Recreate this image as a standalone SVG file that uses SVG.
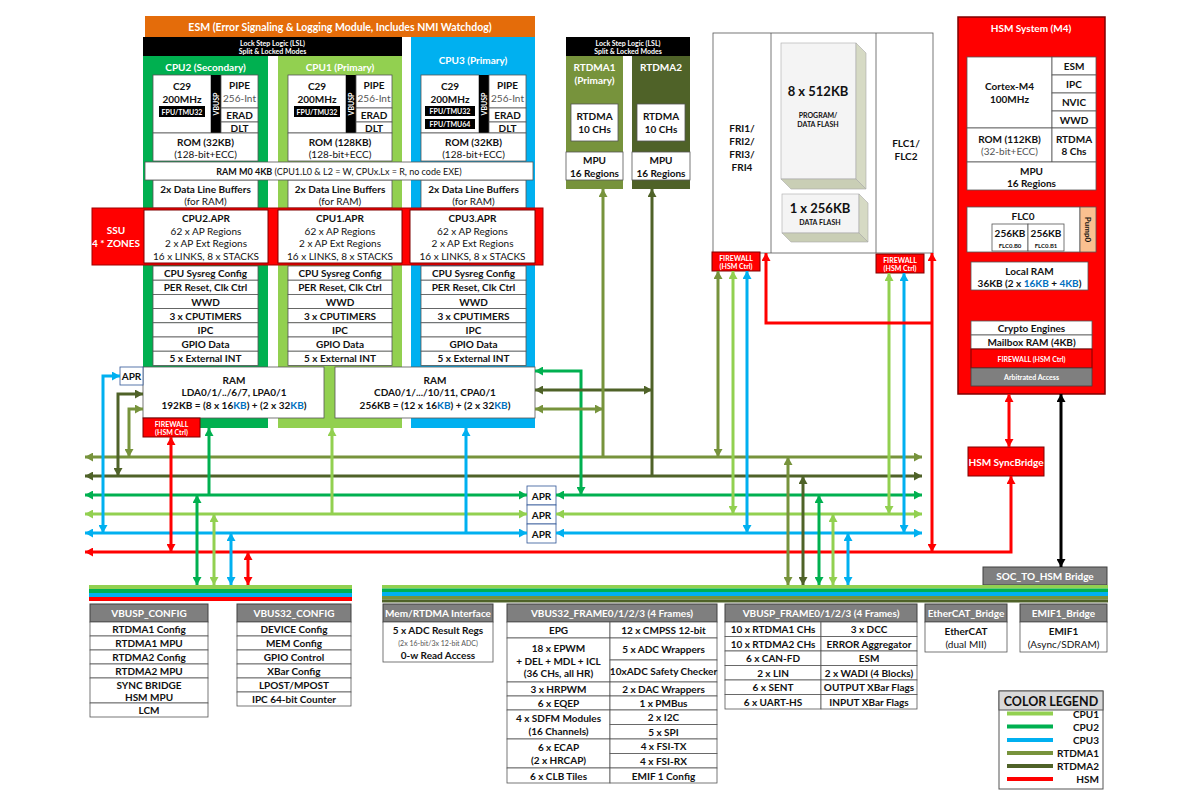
<svg xmlns="http://www.w3.org/2000/svg" width="1200" height="795" viewBox="0 0 1200 795">
<defs>
<style>
text{font-family:Lato,'Liberation Sans',sans-serif;font-size:10px;font-weight:700;text-anchor:middle;dominant-baseline:central;fill:#111}
.n{font-weight:400}
.w{fill:#fff}
.t7{font-size:7px}
.t8{font-size:8px}
.t9{font-size:9px}
.gy{fill:#555}
.kb{fill:#0070C0}
.bx{fill:#fff;stroke:#555;stroke-width:.8}
.hd{fill:#7f7f7f;stroke:#404040;stroke-width:1}
.fw{fill:#f00;stroke:#7f0000;stroke-width:1}
.apr{fill:#fff;stroke:#2F5597;stroke-width:.8}
.c{fill:none;stroke-width:3}
.lg{stroke:#92D050}.g{stroke:#00B050}.bl{stroke:#00B0F0}.ol{stroke:#77933C}.dk{stroke:#4F6228}.rd{stroke:#FF0000}.bk{stroke:#000}
</style>
<marker id="mlg" viewBox="0 0 8 9" refX="8" refY="4.5" markerWidth="8" markerHeight="9" markerUnits="userSpaceOnUse" orient="auto-start-reverse"><path d="M0,0 L8,4.5 L0,9 Z" fill="#92D050"/></marker>
<marker id="mg" viewBox="0 0 8 9" refX="8" refY="4.5" markerWidth="8" markerHeight="9" markerUnits="userSpaceOnUse" orient="auto-start-reverse"><path d="M0,0 L8,4.5 L0,9 Z" fill="#00B050"/></marker>
<marker id="mb" viewBox="0 0 8 9" refX="8" refY="4.5" markerWidth="8" markerHeight="9" markerUnits="userSpaceOnUse" orient="auto-start-reverse"><path d="M0,0 L8,4.5 L0,9 Z" fill="#00B0F0"/></marker>
<marker id="mo" viewBox="0 0 8 9" refX="8" refY="4.5" markerWidth="8" markerHeight="9" markerUnits="userSpaceOnUse" orient="auto-start-reverse"><path d="M0,0 L8,4.5 L0,9 Z" fill="#77933C"/></marker>
<marker id="md" viewBox="0 0 8 9" refX="8" refY="4.5" markerWidth="8" markerHeight="9" markerUnits="userSpaceOnUse" orient="auto-start-reverse"><path d="M0,0 L8,4.5 L0,9 Z" fill="#4F6228"/></marker>
<marker id="mr" viewBox="0 0 8 9" refX="8" refY="4.5" markerWidth="8" markerHeight="9" markerUnits="userSpaceOnUse" orient="auto-start-reverse"><path d="M0,0 L8,4.5 L0,9 Z" fill="#FF0000"/></marker>
<marker id="mk" viewBox="0 0 8 9" refX="8" refY="4.5" markerWidth="8" markerHeight="9" markerUnits="userSpaceOnUse" orient="auto-start-reverse"><path d="M0,0 L8,4.5 L0,9 Z" fill="#000"/></marker>
</defs>
<rect width="1200" height="795" fill="#fff"/>

<g id="esm">
<rect x="145" y="16" width="390" height="21" fill="#E46C0A"/>
<text class="w" x="340" y="26.5" style="font-size:10.5px">ESM (Error Signaling &amp; Logging Module, Includes NMI Watchdog)</text>
</g>
<g id="lsl-cpu">
<rect x="143" y="37" width="259" height="19" fill="#000"/>
<text class="w t7" x="272.5" y="42.5">Lock Step Logic (LSL)</text>
<text class="w t7" x="272.5" y="51">Split &amp; Locked Modes</text>
</g>

<g id="cpu2" transform="translate(143,0)">
<rect x="0" y="56" width="125" height="372" fill="#00B050"/>
<text class="w" x="62.5" y="67">CPU2 (Secondary)</text>
<rect class="bx" x="10" y="75" width="58" height="58"/>
<text x="39" y="86">C29</text>
<text x="39" y="99">200MHz</text>
<rect x="16" y="106" width="46" height="11" fill="#000"/>
<text class="w t7" x="39" y="111.5">FPU/TMU32</text>
<rect x="68" y="75" width="10" height="58" fill="#000"/>
<text class="w t7" transform="translate(73,104) rotate(-90)">VBUSP</text>
<rect class="bx" x="78" y="75" width="37" height="33"/>
<text x="96.5" y="85">PIPE</text>
<text class="n gy" x="96.5" y="98">256-Int</text>
<rect class="bx" x="78" y="108" width="37" height="14"/>
<text x="96.5" y="115">ERAD</text>
<rect class="bx" x="78" y="122" width="37" height="11"/>
<text x="96.5" y="127.5">DLT</text>
<rect class="bx" x="10" y="133" width="105" height="28"/>
<text x="62.5" y="142">ROM (32KB)</text>
<text class="n" x="62.5" y="154">(128-bit+ECC)</text>
<rect class="bx" x="10" y="180" width="105" height="28"/>
<text x="62.5" y="189">2x Data Line Buffers</text>
<text class="n" x="62.5" y="201">(for RAM)</text>
<rect class="bx" x="10" y="266" width="105" height="14.2"/><text x="62.5" y="273.1">CPU Sysreg Config</text>
<rect class="bx" x="10" y="280.2" width="105" height="14.2"/><text x="62.5" y="287.3">PER Reset, Clk Ctrl</text>
<rect class="bx" x="10" y="294.4" width="105" height="14.2"/><text x="62.5" y="301.5">WWD</text>
<rect class="bx" x="10" y="308.6" width="105" height="14.2"/><text x="62.5" y="315.7">3 x CPUTIMERS</text>
<rect class="bx" x="10" y="322.8" width="105" height="14.2"/><text x="62.5" y="329.9">IPC</text>
<rect class="bx" x="10" y="337" width="105" height="14.2"/><text x="62.5" y="344.1">GPIO Data</text>
<rect class="bx" x="10" y="351.2" width="105" height="14.2"/><text x="62.5" y="358.3">5 x External INT</text>
</g>

<g id="cpu1" transform="translate(278,0)">
<rect x="0" y="56" width="124" height="372" fill="#92D050"/>
<text class="w" x="62" y="67">CPU1 (Primary)</text>
<rect class="bx" x="10" y="75" width="58" height="58"/>
<text x="39" y="86">C29</text>
<text x="39" y="99">200MHz</text>
<rect x="16" y="106" width="46" height="11" fill="#000"/>
<text class="w t7" x="39" y="111.5">FPU/TMU32</text>
<rect x="68" y="75" width="10" height="58" fill="#000"/>
<text class="w t7" transform="translate(73,104) rotate(-90)">VBUSP</text>
<rect class="bx" x="78" y="75" width="36" height="33"/>
<text x="96" y="85">PIPE</text>
<text class="n gy" x="96" y="98">256-Int</text>
<rect class="bx" x="78" y="108" width="36" height="14"/>
<text x="96" y="115">ERAD</text>
<rect class="bx" x="78" y="122" width="36" height="11"/>
<text x="96" y="127.5">DLT</text>
<rect class="bx" x="10" y="133" width="104" height="28"/>
<text x="62" y="142">ROM (128KB)</text>
<text class="n" x="62" y="154">(128-bit+ECC)</text>
<rect class="bx" x="10" y="180" width="104" height="28"/>
<text x="62" y="189">2x Data Line Buffers</text>
<text class="n" x="62" y="201">(for RAM)</text>
<rect class="bx" x="10" y="266" width="104" height="14.2"/><text x="62" y="273.1">CPU Sysreg Config</text>
<rect class="bx" x="10" y="280.2" width="104" height="14.2"/><text x="62" y="287.3">PER Reset, Clk Ctrl</text>
<rect class="bx" x="10" y="294.4" width="104" height="14.2"/><text x="62" y="301.5">WWD</text>
<rect class="bx" x="10" y="308.6" width="104" height="14.2"/><text x="62" y="315.7">3 x CPUTIMERS</text>
<rect class="bx" x="10" y="322.8" width="104" height="14.2"/><text x="62" y="329.9">IPC</text>
<rect class="bx" x="10" y="337" width="104" height="14.2"/><text x="62" y="344.1">GPIO Data</text>
<rect class="bx" x="10" y="351.2" width="104" height="14.2"/><text x="62" y="358.3">5 x External INT</text>
</g>

<g id="cpu3" transform="translate(411,0)">
<rect x="0" y="37" width="124" height="391" fill="#00B0F0"/>
<text class="w" x="62" y="60">CPU3 (Primary)</text>
<rect class="bx" x="10" y="75" width="58" height="58"/>
<text x="39" y="86">C29</text>
<text x="39" y="99">200MHz</text>
<rect x="14" y="106" width="50" height="10" fill="#000"/>
<text class="w t7" x="39" y="111">FPU/TMU32</text>
<rect x="14" y="119" width="50" height="10" fill="#000"/>
<text class="w t7" x="39" y="124">FPU/TMU64</text>
<rect x="68" y="75" width="10" height="58" fill="#000"/>
<text class="w t7" transform="translate(73,104) rotate(-90)">VBUSP</text>
<rect class="bx" x="78" y="75" width="37" height="33"/>
<text x="96.5" y="85">PIPE</text>
<text class="n gy" x="96.5" y="98">256-Int</text>
<rect class="bx" x="78" y="108" width="37" height="14"/>
<text x="96.5" y="115">ERAD</text>
<rect class="bx" x="78" y="122" width="37" height="11"/>
<text x="96.5" y="127.5">DLT</text>
<rect class="bx" x="10" y="133" width="105" height="28"/>
<text x="62.5" y="142">ROM (32KB)</text>
<text class="n" x="62.5" y="154">(128-bit+ECC)</text>
<rect class="bx" x="10" y="180" width="105" height="28"/>
<text x="62.5" y="189">2x Data Line Buffers</text>
<text class="n" x="62.5" y="201">(for RAM)</text>
<rect class="bx" x="10" y="266" width="105" height="14.2"/><text x="62.5" y="273.1">CPU Sysreg Config</text>
<rect class="bx" x="10" y="280.2" width="105" height="14.2"/><text x="62.5" y="287.3">PER Reset, Clk Ctrl</text>
<rect class="bx" x="10" y="294.4" width="105" height="14.2"/><text x="62.5" y="301.5">WWD</text>
<rect class="bx" x="10" y="308.6" width="105" height="14.2"/><text x="62.5" y="315.7">3 x CPUTIMERS</text>
<rect class="bx" x="10" y="322.8" width="105" height="14.2"/><text x="62.5" y="329.9">IPC</text>
<rect class="bx" x="10" y="337" width="105" height="14.2"/><text x="62.5" y="344.1">GPIO Data</text>
<rect class="bx" x="10" y="351.2" width="105" height="14.2"/><text x="62.5" y="358.3">5 x External INT</text>
</g>

<g id="ram-m0">
<rect class="bx" x="145" y="162" width="388" height="18"/>
<text class="t9" x="339" y="171">RAM M0 4KB<tspan class="n"> (CPU1.L0 &amp; L2 = W, CPUx.Lx = R, no code EXE)</tspan></text>
</g>

<g id="ssu">
<rect x="92" y="208" width="451" height="57" fill="#FF0000" stroke="#a00000" stroke-width="1"/>
<text class="w" x="116" y="230">SSU</text>
<text class="w" x="116" y="243">4 * ZONES</text>
</g>
<g id="cpu2-apr">
<rect x="144" y="210" width="124" height="53" fill="#fff" stroke="#7f0000" stroke-width="1"/>
<text x="206" y="218">CPU2.APR</text>
<text class="n" x="206" y="231">62 x AP Regions</text>
<text class="n" x="206" y="243">2 x AP Ext Regions</text>
<text class="n" x="206" y="256">16 x LINKS, 8 x STACKS</text>
</g>
<g id="cpu1-apr">
<rect x="278" y="210" width="124" height="53" fill="#fff" stroke="#7f0000" stroke-width="1"/>
<text x="340" y="218">CPU1.APR</text>
<text class="n" x="340" y="231">62 x AP Regions</text>
<text class="n" x="340" y="243">2 x AP Ext Regions</text>
<text class="n" x="340" y="256">16 x LINKS, 8 x STACKS</text>
</g>
<g id="cpu3-apr">
<rect x="410" y="210" width="125" height="53" fill="#fff" stroke="#7f0000" stroke-width="1"/>
<text x="472.5" y="218">CPU3.APR</text>
<text class="n" x="472.5" y="231">62 x AP Regions</text>
<text class="n" x="472.5" y="243">2 x AP Ext Regions</text>
<text class="n" x="472.5" y="256">16 x LINKS, 8 x STACKS</text>
</g>

<g id="ram-left">
<rect class="bx" x="143" y="367" width="181" height="51"/>
<text x="234" y="379.5">RAM</text>
<text x="234" y="392">LDA0/1/../6/7, LPA0/1</text>
<text x="234" y="405">192KB = (8 x 16<tspan class="kb">KB</tspan>) + (2 x 32<tspan class="kb">KB</tspan>)</text>
</g>
<g id="ram-right">
<rect class="bx" x="335" y="367" width="200" height="51"/>
<text x="435" y="379.5">RAM</text>
<text x="435" y="392">CDA0/1/.../10/11, CPA0/1</text>
<text x="435" y="405">256KB = (12 x 16<tspan class="kb">KB</tspan>) + (2 x 32<tspan class="kb">KB</tspan>)</text>
</g>
<g id="apr-ram">
<rect class="apr" x="120" y="367" width="23" height="18"/>
<text x="131.5" y="376">APR</text>
</g>
<g id="fw-ram">
<rect class="fw" x="143" y="418" width="57" height="19"/>
<text class="w t7" x="171.5" y="423.5">FIREWALL</text>
<text class="w t7" x="171.5" y="431.5">(HSM Ctrl)</text>
</g>

<g id="rtdma">
<rect x="566" y="37" width="124" height="19" fill="#000"/>
<text class="w t7" x="628" y="42.5">Lock Step Logic (LSL)</text>
<text class="w t7" x="628" y="51">Split &amp; Locked Modes</text>
</g>
<g id="rtdma1">
<rect x="566" y="56" width="57" height="133" fill="#77933C"/>
<text class="w" x="594.5" y="67">RTDMA1</text>
<text class="w" x="594.5" y="80">(Primary)</text>
<rect class="bx" x="571" y="104" width="47" height="37"/>
<text x="594.5" y="116">RTDMA</text>
<text x="594.5" y="129">10 CHs</text>
<rect class="bx" x="566" y="152" width="57" height="28"/>
<text x="594.5" y="160">MPU</text>
<text x="594.5" y="173">16 Regions</text>
</g>
<g id="rtdma2">
<rect x="632" y="56" width="58" height="133" fill="#4F6228"/>
<text class="w" x="661" y="67">RTDMA2</text>
<rect class="bx" x="637" y="104" width="48" height="37"/>
<text x="661" y="116">RTDMA</text>
<text x="661" y="129">10 CHs</text>
<rect class="bx" x="632" y="152" width="58" height="28"/>
<text x="661" y="160">MPU</text>
<text x="661" y="173">16 Regions</text>
</g>

<g id="flash">
<rect class="bx" x="713" y="33" width="220" height="220"/>
<line x1="771" y1="33" x2="771" y2="253" stroke="#555" stroke-width=".8"/>
<line x1="876" y1="33" x2="876" y2="253" stroke="#555" stroke-width=".8"/>
<text x="742" y="128">FRI1/</text>
<text x="742" y="141">FRI2/</text>
<text x="742" y="154">FRI3/</text>
<text x="742" y="167">FRI4</text>
<text x="906" y="143">FLC1/</text>
<text x="906" y="156">FLC2</text>
<rect x="781" y="43" width="75" height="136" fill="#F4F4F4" stroke="#aaa" stroke-width=".6"/>
<polygon points="856,43 866,53 866,189 856,179" fill="#D6DAC4" stroke="#aaa" stroke-width=".6"/>
<polygon points="781,179 856,179 866,189 791,189" fill="#C9CEB5" stroke="#aaa" stroke-width=".6"/>
<text x="818" y="91" style="font-size:13px">8 x 512KB</text>
<text class="t7" x="818" y="115">PROGRAM/</text>
<text class="t7" x="818" y="124">DATA FLASH</text>
<rect x="782" y="194" width="77" height="39" fill="#F4F4F4" stroke="#aaa" stroke-width=".6"/>
<polygon points="859,194 868,203 868,242 859,233" fill="#D6DAC4" stroke="#aaa" stroke-width=".6"/>
<polygon points="782,233 859,233 868,242 791,242" fill="#C9CEB5" stroke="#aaa" stroke-width=".6"/>
<text x="820" y="208" style="font-size:13px">1 x 256KB</text>
<text class="t7" x="820" y="222">DATA FLASH</text>
</g>
<g id="fw-fri">
<rect class="fw" x="712" y="252" width="48" height="19"/>
<text class="w t7" x="736" y="257.5">FIREWALL</text>
<text class="w t7" x="736" y="265.5">(HSM Ctrl)</text>
</g>
<g id="fw-flc">
<rect class="fw" x="876" y="254" width="48" height="19"/>
<text class="w t7" x="900" y="259.5">FIREWALL</text>
<text class="w t7" x="900" y="267.5">(HSM Ctrl)</text>
</g>

<g id="hsm">
<rect x="958" y="17" width="147" height="377" fill="#FF0000" stroke="#7f0000" stroke-width="1.5"/>
<text class="w" x="1031" y="28">HSM System (M4)</text>
<rect class="bx" x="967" y="57" width="85" height="71"/>
<text x="1009.5" y="86">Cortex-M4</text>
<text x="1009.5" y="99">100MHz</text>
<rect class="bx" x="1052" y="57" width="44" height="18"/><text x="1074" y="66">ESM</text>
<rect class="bx" x="1052" y="75" width="44" height="18"/><text x="1074" y="84">IPC</text>
<rect class="bx" x="1052" y="93" width="44" height="18"/><text x="1074" y="102">NVIC</text>
<rect class="bx" x="1052" y="111" width="44" height="17"/><text x="1074" y="119.5">WWD</text>
<rect class="bx" x="967" y="128" width="85" height="34"/>
<text x="1009.5" y="139">ROM (112KB)</text>
<text class="n gy" x="1009.5" y="151">(32-bit+ECC)</text>
<rect class="bx" x="1052" y="128" width="44" height="34"/>
<text x="1074" y="139">RTDMA</text>
<text x="1074" y="151">8 Chs</text>
<rect class="bx" x="967" y="162" width="129" height="28"/>
<text x="1031.5" y="170.5">MPU</text>
<text x="1031.5" y="182.5">16 Regions</text>
<rect class="bx" x="967" y="207" width="113" height="45"/>
<text x="1023" y="216">FLC0</text>
<rect class="bx" x="992" y="224" width="36" height="27"/>
<text x="1010" y="233">256KB</text>
<text class="t7" x="1010" y="245" style="font-size:6px">FLC0.B0</text>
<rect class="bx" x="1028" y="224" width="36" height="27"/>
<text x="1046" y="233">256KB</text>
<text class="t7" x="1046" y="245" style="font-size:6px">FLC0.B1</text>
<rect x="1080" y="207" width="16" height="45" fill="#FAC090" stroke="#555" stroke-width=".8"/>
<text class="t8" transform="translate(1088,229.5) rotate(90)">Pump0</text>
<rect class="bx" x="971" y="262" width="117" height="28"/>
<text x="1029.5" y="270.5">Local RAM</text>
<text x="1029.5" y="283">36KB (2 x <tspan class="kb">16KB</tspan> + <tspan class="kb">4KB</tspan>)</text>
<rect class="bx" x="971" y="321" width="121" height="14"/>
<text x="1031.5" y="328">Crypto Engines</text>
<rect class="bx" x="971" y="335" width="121" height="14"/>
<text x="1031.5" y="342">Mailbox RAM (4KB)</text>
<rect class="fw" x="971" y="349" width="121" height="19"/>
<text class="w t7" x="1031.5" y="358.5">FIREWALL (HSM Ctrl)</text>
<rect x="971" y="368" width="121" height="18" fill="#7f7f7f" stroke="#404040" stroke-width=".8"/>
<text class="w t7" x="1031.5" y="377">Arbitrated Access</text>
</g>

<g id="hsm-syncbridge">
<rect x="968" y="447" width="76" height="29" fill="#FF0000" stroke="#7f0000" stroke-width="1"/>
<text class="w" x="1006" y="461.5">HSM SyncBridge</text>
</g>
<g id="soc-to-hsm">
<rect class="hd" x="983" y="567" width="124" height="18"/>
<text class="w" x="1045" y="576">SOC_TO_HSM Bridge</text>
</g>

<g id="apr-mid">
<rect class="apr" x="527" y="486" width="29" height="19"/><text x="541.5" y="495.5">APR</text>
<rect class="apr" x="527" y="505" width="29" height="19"/><text x="541.5" y="514.5">APR</text>
<rect class="apr" x="527" y="524" width="29" height="19"/><text x="541.5" y="533.5">APR</text>
</g>

<g id="buses">
<rect x="89" y="585" width="263" height="4" fill="#92D050"/>
<rect x="89" y="589" width="263" height="4" fill="#00B050"/>
<rect x="89" y="593" width="263" height="4" fill="#00B0F0"/>
<rect x="89" y="597" width="263" height="4" fill="#FF0000"/>
<rect x="382" y="585" width="726" height="3.5" fill="#92D050"/>
<rect x="382" y="588.5" width="726" height="3.5" fill="#00B050"/>
<rect x="382" y="592" width="726" height="4" fill="#00B0F0"/>
<rect x="382" y="596" width="726" height="3.5" fill="#77933C"/>
<rect x="382" y="599.5" width="726" height="3" fill="#4F6228"/>
</g>

<g id="connectors">
<path class="c ol" d="M85,457 H922" marker-start="url(#mo)" marker-end="url(#mo)"/>
<path class="c dk" d="M85,476 H922" marker-start="url(#md)" marker-end="url(#md)"/>
<path class="c g" d="M85,495 H527" marker-start="url(#mg)" marker-end="url(#mg)"/>
<path class="c g" d="M556,495 H922" marker-start="url(#mg)" marker-end="url(#mg)"/>
<path class="c lg" d="M85,514 H527" marker-start="url(#mlg)" marker-end="url(#mlg)"/>
<path class="c lg" d="M556,514 H922" marker-start="url(#mlg)" marker-end="url(#mlg)"/>
<path class="c bl" d="M85,533 H527" marker-start="url(#mb)" marker-end="url(#mb)"/>
<path class="c bl" d="M556,533 H922" marker-start="url(#mb)" marker-end="url(#mb)"/>
<path class="c rd" d="M85,552 H1011 V476" marker-start="url(#mr)" marker-end="url(#mr)"/>

<path class="c bl" d="M120,376 H103 V533" marker-start="url(#mb)" marker-end="url(#mb)"/>
<path class="c dk" d="M143,394 H118 V476" marker-start="url(#md)" marker-end="url(#md)"/>
<path class="c ol" d="M143,409 H129 V457" marker-start="url(#mo)" marker-end="url(#mo)"/>
<path class="c rd" d="M171,437 V552" marker-start="url(#mr)" marker-end="url(#mr)"/>
<path class="c g" d="M209,428 V495" marker-start="url(#mg)"/>
<path class="c lg" d="M332,428 V514" marker-start="url(#mlg)"/>
<path class="c bl" d="M466,428 V533" marker-start="url(#mb)"/>

<path class="c g" d="M197,495 V585" marker-start="url(#mg)" marker-end="url(#mg)"/>
<path class="c lg" d="M214,514 V585" marker-start="url(#mlg)" marker-end="url(#mlg)"/>
<path class="c bl" d="M231,533 V585" marker-start="url(#mb)" marker-end="url(#mb)"/>
<path class="c rd" d="M248,552 V585" marker-start="url(#mr)" marker-end="url(#mr)"/>

<path class="c g" d="M535,371 H581 V495" marker-start="url(#mg)" marker-end="url(#mg)"/>
<path class="c dk" d="M535,390 H652" marker-start="url(#md)" marker-end="url(#md)"/>
<path class="c ol" d="M535,409 H603" marker-start="url(#mo)" marker-end="url(#mo)"/>
<path class="c ol" d="M603,189 V457" marker-start="url(#mo)"/>
<path class="c dk" d="M652,189 V476" marker-start="url(#md)"/>

<path class="c ol" d="M718,271 V457" marker-start="url(#mo)" marker-end="url(#mo)"/>
<path class="c lg" d="M733,271 V514" marker-start="url(#mlg)" marker-end="url(#mlg)"/>
<path class="c bl" d="M747,271 V533" marker-start="url(#mb)" marker-end="url(#mb)"/>
<path class="c lg" d="M889,273 V514" marker-start="url(#mlg)" marker-end="url(#mlg)"/>
<path class="c bl" d="M904,273 V533" marker-start="url(#mb)" marker-end="url(#mb)"/>
<path class="c rd" d="M766,253 V323 H932" marker-start="url(#mr)"/>
<path class="c rd" d="M932,253 V552" marker-start="url(#mr)" marker-end="url(#mr)"/>

<path class="c ol" d="M788,457 V585" marker-start="url(#mo)" marker-end="url(#mo)"/>
<path class="c dk" d="M803,476 V585" marker-start="url(#md)" marker-end="url(#md)"/>
<path class="c g" d="M819,495 V585" marker-start="url(#mg)" marker-end="url(#mg)"/>
<path class="c lg" d="M833,514 V585" marker-start="url(#mlg)" marker-end="url(#mlg)"/>
<path class="c bl" d="M848,533 V585" marker-start="url(#mb)" marker-end="url(#mb)"/>

<path class="c rd" d="M1009,394 V447" marker-start="url(#mr)" marker-end="url(#mr)"/>
<path class="c bk" d="M1061,394 V567" marker-start="url(#mk)" marker-end="url(#mk)"/>
</g>

<g id="vbusp-config">
<rect class="hd" x="90" y="604" width="118" height="18"/>
<text class="w" x="149" y="613">VBUSP_CONFIG</text>
<rect class="bx" x="90" y="622" width="118" height="14"/><text x="149" y="629">RTDMA1 Config</text>
<rect class="bx" x="90" y="636" width="118" height="14"/><text x="149" y="643">RTDMA1 MPU</text>
<rect class="bx" x="90" y="650" width="118" height="14"/><text x="149" y="657">RTDMA2 Config</text>
<rect class="bx" x="90" y="664" width="118" height="14"/><text x="149" y="671">RTDMA2 MPU</text>
<rect class="bx" x="90" y="678" width="118" height="25"/><text x="149" y="684.5">SYNC BRIDGE</text><text x="149" y="696.5">HSM MPU</text>
<rect class="bx" x="90" y="703" width="118" height="14"/><text x="149" y="710">LCM</text>
</g>
<g id="vbus32-config">
<rect class="hd" x="237" y="604" width="114" height="18"/>
<text class="w" x="294" y="613">VBUS32_CONFIG</text>
<rect class="bx" x="237" y="622" width="114" height="14"/><text x="294" y="629">DEVICE Config</text>
<rect class="bx" x="237" y="636" width="114" height="14"/><text x="294" y="643">MEM Config</text>
<rect class="bx" x="237" y="650" width="114" height="14"/><text x="294" y="657">GPIO Control</text>
<rect class="bx" x="237" y="664" width="114" height="14"/><text x="294" y="671">XBar Config</text>
<rect class="bx" x="237" y="678" width="114" height="14"/><text x="294" y="685">LPOST/MPOST</text>
<rect class="bx" x="237" y="692" width="114" height="14"/><text x="294" y="699">IPC 64-bit Counter</text>
</g>
<g id="mem-rtdma">
<rect class="hd" x="383" y="604" width="110" height="18"/>
<text class="w" x="438" y="613">Mem/RTDMA Interface</text>
<rect class="bx" x="383" y="622" width="110" height="40"/>
<text x="438" y="630">5 x ADC Result Regs</text>
<text class="n gy t7" x="438" y="643">(2x 16-bit/3x 12-bit ADC)</text>
<text x="438" y="655">0-w Read Access</text>
</g>
<g id="vbus32-frame">
<rect class="hd" x="507" y="604" width="210" height="18"/>
<text class="w" x="612" y="613">VBUS32_FRAME0/1/2/3 (4 Frames)</text>
<rect class="bx" x="507" y="622" width="103" height="16"/><text x="558.5" y="630">EPG</text>
<rect class="bx" x="610" y="622" width="107" height="16"/><text x="663.5" y="630">12 x CMPSS 12-bit</text>
<rect class="bx" x="507" y="638" width="103" height="44"/>
<text x="558.5" y="648">18 x EPWM</text>
<text x="558.5" y="660.5">+ DEL + MDL + ICL</text>
<text x="558.5" y="673">(36 CHs, all HR)</text>
<rect class="bx" x="610" y="638" width="107" height="22"/><text x="663.5" y="649">5 x ADC Wrappers</text>
<rect class="bx" x="610" y="660" width="107" height="22"/><text x="663.5" y="671">10xADC Safety Checker</text>
<rect class="bx" x="507" y="682" width="103" height="14"/><text x="558.5" y="689">3 x HRPWM</text>
<rect class="bx" x="610" y="682" width="107" height="14"/><text x="663.5" y="689">2 x DAC Wrappers</text>
<rect class="bx" x="507" y="696" width="103" height="14"/><text x="558.5" y="703">6 x EQEP</text>
<rect class="bx" x="610" y="696" width="107" height="14"/><text x="663.5" y="703">1 x PMBus</text>
<rect class="bx" x="507" y="710" width="103" height="29"/>
<text x="558.5" y="718">4 x SDFM Modules</text>
<text x="558.5" y="731">(16 Channels)</text>
<rect class="bx" x="610" y="710" width="107" height="14.5"/><text x="663.5" y="717.2">2 x I2C</text>
<rect class="bx" x="610" y="724.5" width="107" height="14.5"/><text x="663.5" y="731.7">5 x SPI</text>
<rect class="bx" x="507" y="739" width="103" height="29"/>
<text x="558.5" y="747">6 x ECAP</text>
<text x="558.5" y="760">(2 x HRCAP)</text>
<rect class="bx" x="610" y="739" width="107" height="14.5"/><text x="663.5" y="746.2">4 x FSI-TX</text>
<rect class="bx" x="610" y="753.5" width="107" height="14.5"/><text x="663.5" y="760.7">4 x FSI-RX</text>
<rect class="bx" x="507" y="768" width="103" height="15"/><text x="558.5" y="775.5">6 x CLB Tiles</text>
<rect class="bx" x="610" y="768" width="107" height="15"/><text x="663.5" y="775.5">EMIF 1 Config</text>
</g>
<g id="vbusp-frame">
<rect class="hd" x="725" y="604" width="192" height="18"/>
<text class="w" x="821" y="613">VBUSP_FRAME0/1/2/3 (4 Frames)</text>
<rect class="bx" x="725" y="622" width="96" height="14.5"/><text x="773" y="629.2">10 x RTDMA1 CHs</text>
<rect class="bx" x="821" y="622" width="96" height="14.5"/><text x="869" y="629.2">3 x DCC</text>
<rect class="bx" x="725" y="636.5" width="96" height="14.5"/><text x="773" y="643.7">10 x RTDMA2 CHs</text>
<rect class="bx" x="821" y="636.5" width="96" height="14.5"/><text x="869" y="643.7">ERROR Aggregator</text>
<rect class="bx" x="725" y="651" width="96" height="14.5"/><text x="773" y="658.2">6 x CAN-FD</text>
<rect class="bx" x="821" y="651" width="96" height="14.5"/><text x="869" y="658.2">ESM</text>
<rect class="bx" x="725" y="665.5" width="96" height="14.5"/><text x="773" y="672.7">2 x LIN</text>
<rect class="bx" x="821" y="665.5" width="96" height="14.5"/><text x="869" y="672.7">2 x WADI (4 Blocks)</text>
<rect class="bx" x="725" y="680" width="96" height="14.5"/><text x="773" y="687.2">6 x SENT</text>
<rect class="bx" x="821" y="680" width="96" height="14.5"/><text x="869" y="687.2">OUTPUT XBar Flags</text>
<rect class="bx" x="725" y="694.5" width="96" height="14.5"/><text x="773" y="701.7">6 x UART-HS</text>
<rect class="bx" x="821" y="694.5" width="96" height="14.5"/><text x="869" y="701.7">INPUT XBar Flags</text>
</g>
<g id="ethercat-bridge">
<rect class="hd" x="925" y="604" width="82" height="18"/>
<text class="w" x="966" y="613">EtherCAT_Bridge</text>
<rect class="bx" x="925" y="622" width="82" height="30"/>
<text x="966" y="630.5">EtherCAT</text>
<text class="n" x="966" y="643.5">(dual MII)</text>
</g>
<g id="emif1-bridge">
<rect class="hd" x="1020" y="604" width="87" height="18"/>
<text class="w" x="1063.5" y="613">EMIF1_Bridge</text>
<rect class="bx" x="1020" y="622" width="87" height="30"/>
<text x="1063.5" y="630.5">EMIF1</text>
<text class="n" x="1063.5" y="643.5">(Async/SDRAM)</text>
</g>

<g id="legend">
<rect x="999" y="691" width="104" height="98" fill="#fff" stroke="#555" stroke-width="1"/>
<rect x="999" y="691" width="104" height="19" fill="#D9D9D9" stroke="#555" stroke-width="1"/>
<text x="1051" y="701" style="font-size:12.5px">COLOR LEGEND</text>
<line x1="1007" y1="713.5" x2="1053" y2="713.5" stroke="#92D050" stroke-width="4"/>
<text x="1099" y="713.5" style="text-anchor:end">CPU1</text>
<line x1="1007" y1="726.5" x2="1053" y2="726.5" stroke="#00B050" stroke-width="4"/>
<text x="1099" y="726.5" style="text-anchor:end">CPU2</text>
<line x1="1007" y1="740" x2="1053" y2="740" stroke="#00B0F0" stroke-width="4"/>
<text x="1099" y="740" style="text-anchor:end">CPU3</text>
<line x1="1007" y1="753" x2="1053" y2="753" stroke="#77933C" stroke-width="4"/>
<text x="1099" y="753" style="text-anchor:end">RTDMA1</text>
<line x1="1007" y1="766" x2="1053" y2="766" stroke="#4F6228" stroke-width="4"/>
<text x="1099" y="766" style="text-anchor:end">RTDMA2</text>
<line x1="1007" y1="779" x2="1053" y2="779" stroke="#FF0000" stroke-width="4"/>
<text x="1099" y="779" style="text-anchor:end">HSM</text>
</g>
</svg>
